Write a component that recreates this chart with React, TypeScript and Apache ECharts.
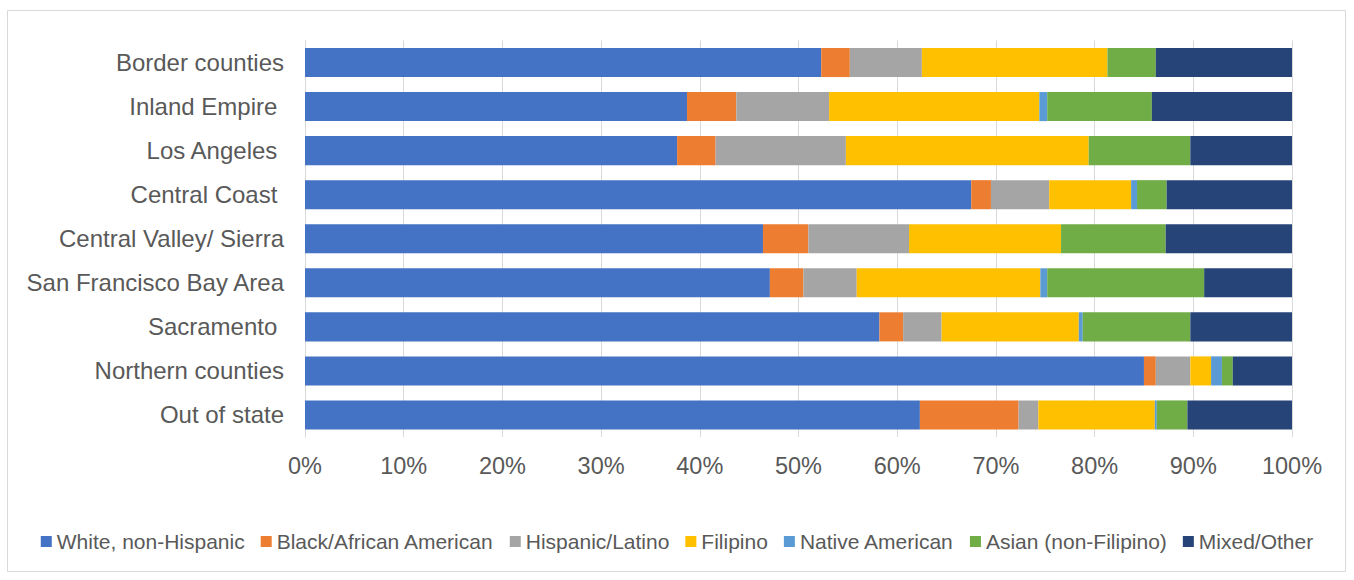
import React, { useEffect, useRef } from "react";
import * as echarts from "echarts";

const categories = [
  "Border counties",
  "Inland Empire ",
  "Los Angeles ",
  "Central Coast ",
  "Central Valley/ Sierra",
  "San Francisco Bay Area",
  "Sacramento ",
  "Northern counties",
  "Out of state",
];

const seriesNames = [
  "White, non-Hispanic",
  "Black/African American",
  "Hispanic/Latino",
  "Filipino",
  "Native American",
  "Asian (non-Filipino)",
  "Mixed/Other",
];

const white = [52.3, 38.7, 37.7, 67.5, 46.4, 47.1, 58.2, 85.0, 62.3];
const black = [2.9, 5.0, 3.9, 2.0, 4.6, 3.4, 2.4, 1.2, 10.0];
const hispanic = [7.3, 9.4, 13.2, 5.9, 10.2, 5.4, 3.9, 3.5, 2.0];
const filipino = [18.8, 21.3, 24.6, 8.3, 15.4, 18.6, 13.9, 2.1, 11.8];
const nativeAm = [0, 0.8, 0, 0.6, 0, 0.7, 0.4, 1.1, 0.2];
const asian = [4.9, 10.6, 10.3, 3.0, 10.6, 15.9, 10.9, 1.1, 3.1];
const mixed = [13.8, 14.2, 10.3, 12.7, 12.8, 8.9, 10.3, 6.0, 10.6];

const xTicks = [0, 10, 20, 30, 40, 50, 60, 70, 80, 90, 100];

const colors = ["#4472C4", "#ED7D31", "#A5A5A5", "#FFC000", "#5B9BD5", "#70AD47", "#264478"];

const FONT = "'Liberation Sans', Arial, sans-serif";

export default function App() {
  const ref = useRef<HTMLDivElement>(null);

  useEffect(() => {
    if (!ref.current) return;
    const chart = echarts.init(ref.current, undefined, { renderer: "svg" });
    const values = [white, black, hispanic, filipino, nativeAm, asian, mixed];
    chart.setOption({
      animation: false,
      color: colors,
      textStyle: { fontFamily: FONT },
      graphic: [
        {
          type: "rect",
          shape: { x: 7.5, y: 10.5, width: 1338, height: 561 },
          style: { fill: "none", stroke: "#d9d9d9", lineWidth: 1 },
          silent: true,
        },
      ],
      grid: { left: 305, right: 62, top: 40.5, bottom: 143, containLabel: false },
      legend: {
        data: seriesNames,
        left: "center",
        top: 526,
        itemWidth: 11,
        itemHeight: 11,
        itemGap: 16,
        icon: "rect",
        textStyle: { color: "#595959", fontSize: 21, fontFamily: FONT },
      },
      xAxis: {
        type: "value",
        min: 0,
        max: 100,
        interval: 10,
        axisLine: { show: false },
        axisTick: { show: false },
        splitLine: { show: true, lineStyle: { color: "#d9d9d9", width: 1 } },
        axisLabel: {
          color: "#595959",
          fontSize: 23.5,
          fontFamily: FONT,
          margin: 17,
          formatter: (v: number) => (xTicks.includes(v) ? v + "%" : ""),
        },
      },
      yAxis: {
        type: "category",
        data: categories,
        inverse: true,
        axisLine: { show: true, lineStyle: { color: "#d9d9d9", width: 1 } },
        axisTick: { show: false },
        axisLabel: {
          color: "#595959",
          fontSize: 24,
          fontFamily: FONT,
          margin: 21,
        },
      },
      series: seriesNames.map((name, i) => ({
        name,
        type: "bar",
        stack: "total",
        barCategoryGap: "34%",
        data: values[i],
        itemStyle: { color: colors[i] },
      })),
    });
    return () => chart.dispose();
  }, []);

  return (
    <div
      ref={ref}
      style={{ position: "fixed", left: 0, top: 0, width: 1354, height: 580, background: "#fff" }}
    />
  );
}
